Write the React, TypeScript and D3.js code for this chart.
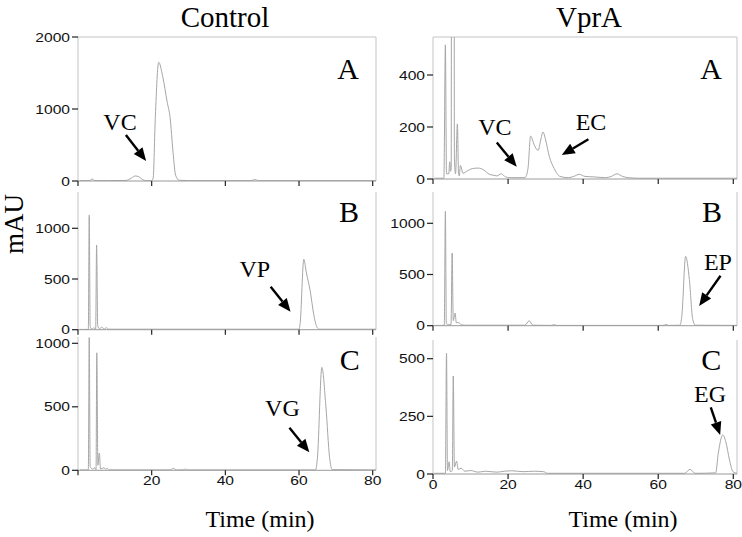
import React from "react";
import * as d3 from "d3";

// ---------- DATA (time in min, absorbance in mAU) ----------
const controlA: [number, number][] = [
  [0.5, 5], [3, 5], [4, 28], [4.4, 5], [8, 5], [13, 8], [14.5, 40], [15.5, 70], [16.5, 60],
  [17.5, 20], [18.5, 5], [20, 5], [20.4, 40], [21, 900], [21.9, 1650], [23, 1450], [24.2, 1100],
  [25, 880], [25.8, 400], [26.5, 80], [27.5, 10], [30, 5], [47, 5], [48, 20], [49, 5], [81, 5],
];
const controlB: [number, number][] = [
  [0.5, 3], [2.8, 3], [3.05, 1130], [3.3, 30], [3.8, 5], [4.3, 20], [4.8, 5], [5.05, 835],
  [5.35, 40], [5.8, 10], [6.5, 25], [7, 5], [7.8, 20], [8.3, 5], [60, 5], [60.3, 60],
  [61.3, 694], [62, 560], [63, 390], [64, 150], [64.8, 30], [65.5, 5], [81, 5],
];
const controlC: [number, number][] = [
  [0.5, 3], [2.8, 3], [3.05, 1045], [3.3, 30], [4, 10], [4.6, 20], [4.9, 5], [5.1, 925],
  [5.4, 40], [5.8, 136], [6.1, 10], [7, 20], [7.5, 10], [8, 15], [8.5, 3], [25, 3], [25.9, 15],
  [26.8, 3], [28.5, 3], [29.2, 10], [29.8, 3], [64.5, 3], [65, 100], [66.2, 810], [67.3, 500],
  [68.3, 100], [69, 5], [81, 3],
];
const vprA_A: [number, number][] = [
  [0.3, 3], [2.9, 3], [3.3, 516], [3.6, 20], [4.2, 20], [4.45, 66], [4.7, 30], [4.85, 40],
  [4.95, 1500], [5.6, 1500], [5.7, 80], [6.0, 20], [6.5, 212], [6.8, 20], [7.0, 12], [7.3, 52],
  [8, 22], [9, 30], [10.5, 40], [12, 42], [13.5, 35], [15, 18], [16, 15], [17, 12], [18.2, 20],
  [19.3, 8], [20.5, 5], [24.5, 5], [25.3, 40], [26, 165], [27, 130], [28, 110], [28.7, 150],
  [29.3, 181], [30, 150], [31, 86], [32.3, 40], [33.8, 10], [36, 5], [37.5, 10], [39, 18],
  [40.5, 10], [43, 8], [46, 5], [47.5, 10], [49, 20], [50.5, 10], [52, 5], [55, 3], [81, 3],
];
const vprA_B: [number, number][] = [
  [0.3, 3], [3.0, 3], [3.3, 1117], [3.55, 20], [4.2, 10], [4.8, 10], [5.1, 710], [5.4, 50],
  [5.9, 124], [6.2, 30], [6.8, 30], [7.5, 10], [8.5, 5], [24.5, 5], [25.6, 48], [26.6, 5],
  [31.5, 3], [32.3, 10], [33, 3], [61.3, 3], [62, 12], [62.8, 3], [65.8, 5], [66.3, 100],
  [67.3, 676], [68.3, 450], [69.2, 60], [69.9, 5], [81, 3],
];
const vprA_C: [number, number][] = [
  [0.3, 3], [3.3, 3], [3.6, 524], [3.85, 15], [4.3, 53], [4.6, 10], [5.15, 15], [5.4, 425],
  [5.7, 30], [6.3, 56], [6.7, 20], [7.5, 25], [8.5, 12], [10, 15], [12, 8], [14, 12], [17, 8],
  [19, 12], [21, 14], [24, 10], [27, 12], [29.5, 10], [30.5, 3], [67, 3], [68.5, 20], [69.8, 3],
  [75.3, 5], [76, 90], [77.2, 169], [78, 140], [79, 60], [79.9, 10], [80.5, 5], [81, 3],
];

const columnTitles = ["Control", "VprA"];
const panelLetters = ["A", "B", "C"];
const xTickValues = [0, 20, 40, 60, 80];
const xTickLabelsLeft = [20, 40, 60, 80];
const xTickLabelsRight = [0, 20, 40, 60, 80];
const yTicksControl = [[0, 1000, 2000], [0, 500, 1000], [0, 500, 1000]];
const yTicksVprA = [[0, 200, 400], [0, 500, 1000], [0, 250, 500]];

// annotations: label at (t, v), arrow from (t1, v1) to (t2, v2) in data units
const annControl = [
  [{ label: "VC", t: 11.4, v: 708, from: [13.0, 639], to: [18.5, 278] }],
  [{ label: "VP", t: 48.0, v: 520, from: [52.3, 424], to: [57.7, 178] }],
  [{ label: "VG", t: 55.5, v: 428, from: [57.4, 335], to: [62.8, 142] }],
];
const annVprA = [
  [
    { label: "VC", t: 16.5, v: 169, from: [17.0, 140], to: [22.3, 47] },
    { label: "EC", t: 42.1, v: 188, from: [41.4, 153], to: [34.3, 92] },
  ],
  [{ label: "EP", t: 75.9, v: 544, from: [76.6, 488], to: [70.9, 192] }],
  [{ label: "EG", t: 73.8, v: 314, from: [74.0, 289], to: [76.5, 169] }],
];
const letterPos = [
  [{ t: 73.3, v: 1417 }, { t: 73.6, v: 1065 }, { t: 73.8, v: 790 }],
  [{ t: 74.1, v: 385 }, { t: 74.3, v: 1016 }, { t: 74.1, v: 451 }],
];

// ---------- LAYOUT ----------
const SERIF = "'Liberation Serif', 'Times New Roman', serif";
const SANS = "'Liberation Sans', Arial, sans-serif";
const TRACE = "#a6a6a6";
const FRAME = "#c4c4c4";

const columns = [
  { x0: 78, x80: 372.7, right: 376, titleX: 225, timeX: 260 },
  { x0: 433, x80: 733.3, right: 737, titleX: 589, timeX: 623 },
];
const rowsControl = [
  { zero: 181, ref: 2000, refY: 37, top: 37 },
  { zero: 329.7, ref: 1000, refY: 228.3, top: 192 },
  { zero: 470.3, ref: 1000, refY: 343.3, top: 337 },
];
const rowsVprA = [
  { zero: 179, ref: 400, refY: 75, top: 37 },
  { zero: 325.7, ref: 1000, refY: 223.3, top: 192 },
  { zero: 474, ref: 500, refY: 358.7, top: 340 },
];

function Arrow({ x1, y1, x2, y2 }: { x1: number; y1: number; x2: number; y2: number }) {
  const ang = Math.atan2(y2 - y1, x2 - x1);
  const L = 13, W = 5.5;
  const bx = x2 - L * Math.cos(ang), by = y2 - L * Math.sin(ang);
  const px = -Math.sin(ang), py = Math.cos(ang);
  return (
    <g>
      <line x1={x1} y1={y1} x2={bx} y2={by} stroke="#000" strokeWidth={2.4} />
      <polygon
        points={`${x2},${y2} ${bx + W * px},${by + W * py} ${bx - W * px},${by - W * py}`}
        fill="#000"
      />
    </g>
  );
}

function Panel({ col, row, rowIdx, colIdx, data, yTicks, anns, letter, bottom }: any) {
  const x = d3.scaleLinear().domain([0, 80]).range([col.x0, col.x80]);
  const y = d3.scaleLinear().domain([0, row.ref]).range([row.zero, row.refY]);
  const line = d3
    .line<[number, number]>()
    .x((d) => x(d[0]))
    .y((d) => y(d[1]))
    .curve(d3.curveMonotoneX);
  const clipId = `clip-${colIdx}-${rowIdx}`;
  const xLabels = colIdx === 0 ? xTickLabelsLeft : xTickLabelsRight;
  return (
    <g>
      <defs>
        <clipPath id={clipId}>
          <rect x={col.x0} y={row.top} width={col.right - col.x0} height={row.zero - row.top} />
        </clipPath>
      </defs>
      {/* frame */}
      <line x1={col.x0} x2={col.x0} y1={row.top} y2={row.zero} stroke={FRAME} strokeWidth={1} />
      <line x1={col.right} x2={col.right} y1={row.top} y2={row.zero} stroke={FRAME} strokeWidth={1} />
      {rowIdx === 0 && (
        <line x1={col.x0} x2={col.right} y1={row.top} y2={row.top} stroke={FRAME} strokeWidth={1} />
      )}
      {/* trace */}
      <path d={line(data) || ""} fill="none" stroke={TRACE} strokeWidth={1} clipPath={`url(#${clipId})`} />
      {/* x axis */}
      <line x1={col.x0} x2={col.right} y1={row.zero} y2={row.zero} stroke="#9a9a9a" strokeWidth={1} />
      {xTickValues.map((t) => (
        <line key={t} x1={x(t)} x2={x(t)} y1={row.zero} y2={row.zero + 5} stroke="#222" strokeWidth={1.2} />
      ))}
      {bottom &&
        xLabels.map((t) => (
          <text
            key={t}
            transform={`translate(${x(t)},${row.zero + 10}) scale(1.2,1)`}
            textAnchor="middle"
            dy="0.36em"
            fontFamily={SANS}
            fontSize={13}
            fill="#111"
          >
            {t}
          </text>
        ))}
      {/* y ticks */}
      {yTicks.map((v: number) => (
        <g key={v}>
          <line x1={col.x0 - 6} x2={col.x0} y1={y(v)} y2={y(v)} stroke="#222" strokeWidth={1.2} />
          <text
            transform={`translate(${col.x0 - 8},${y(v)}) scale(1.2,1)`}
            textAnchor="end"
            dy="0.36em"
            fontFamily={SANS}
            fontSize={13}
            fill="#111"
          >
            {v}
          </text>
        </g>
      ))}
      {/* panel letter */}
      <text x={x(letter.t)} y={y(letter.v)} textAnchor="middle" fontFamily={SERIF} fontSize={30} fill="#000">
        {panelLetters[rowIdx]}
      </text>
      {/* annotations */}
      {anns.map((a: any) => (
        <g key={a.label}>
          <text x={x(a.t)} y={y(a.v)} textAnchor="middle" fontFamily={SERIF} fontSize={24} fill="#000">
            {a.label}
          </text>
          <Arrow x1={x(a.from[0])} y1={y(a.from[1])} x2={x(a.to[0])} y2={y(a.to[1])} />
        </g>
      ))}
    </g>
  );
}

export default function App() {
  const controlData = [controlA, controlB, controlC];
  const vprData = [vprA_A, vprA_B, vprA_C];
  return (
    <svg
      width={742}
      height={537}
      style={{ position: "absolute", left: 0, top: 0, background: "#fff" }}
    >
      <rect width={742} height={537} fill="#fff" />
      {columnTitles.map((t, i) => (
        <text key={t} x={columns[i].titleX} y={27} textAnchor="middle" fontFamily={SERIF} fontSize={29} fill="#000">
          {t}
        </text>
      ))}
      <text
        transform="translate(23,224) rotate(-90)"
        textAnchor="middle"
        fontFamily={SERIF}
        fontSize={27}
        fill="#000"
      >
        mAU
      </text>
      {[0, 1, 2].map((r) => (
        <Panel
          key={`c${r}`}
          col={columns[0]}
          row={rowsControl[r]}
          rowIdx={r}
          colIdx={0}
          data={controlData[r]}
          yTicks={yTicksControl[r]}
          anns={annControl[r]}
          letter={letterPos[0][r]}
          bottom={r === 2}
        />
      ))}
      {[0, 1, 2].map((r) => (
        <Panel
          key={`v${r}`}
          col={columns[1]}
          row={rowsVprA[r]}
          rowIdx={r}
          colIdx={1}
          data={vprData[r]}
          yTicks={yTicksVprA[r]}
          anns={annVprA[r]}
          letter={letterPos[1][r]}
          bottom={r === 2}
        />
      ))}
      {columns.map((c, i) => (
        <text key={i} x={c.timeX} y={527} textAnchor="middle" fontFamily={SERIF} fontSize={24} fill="#000">
          Time (min)
        </text>
      ))}
    </svg>
  );
}
